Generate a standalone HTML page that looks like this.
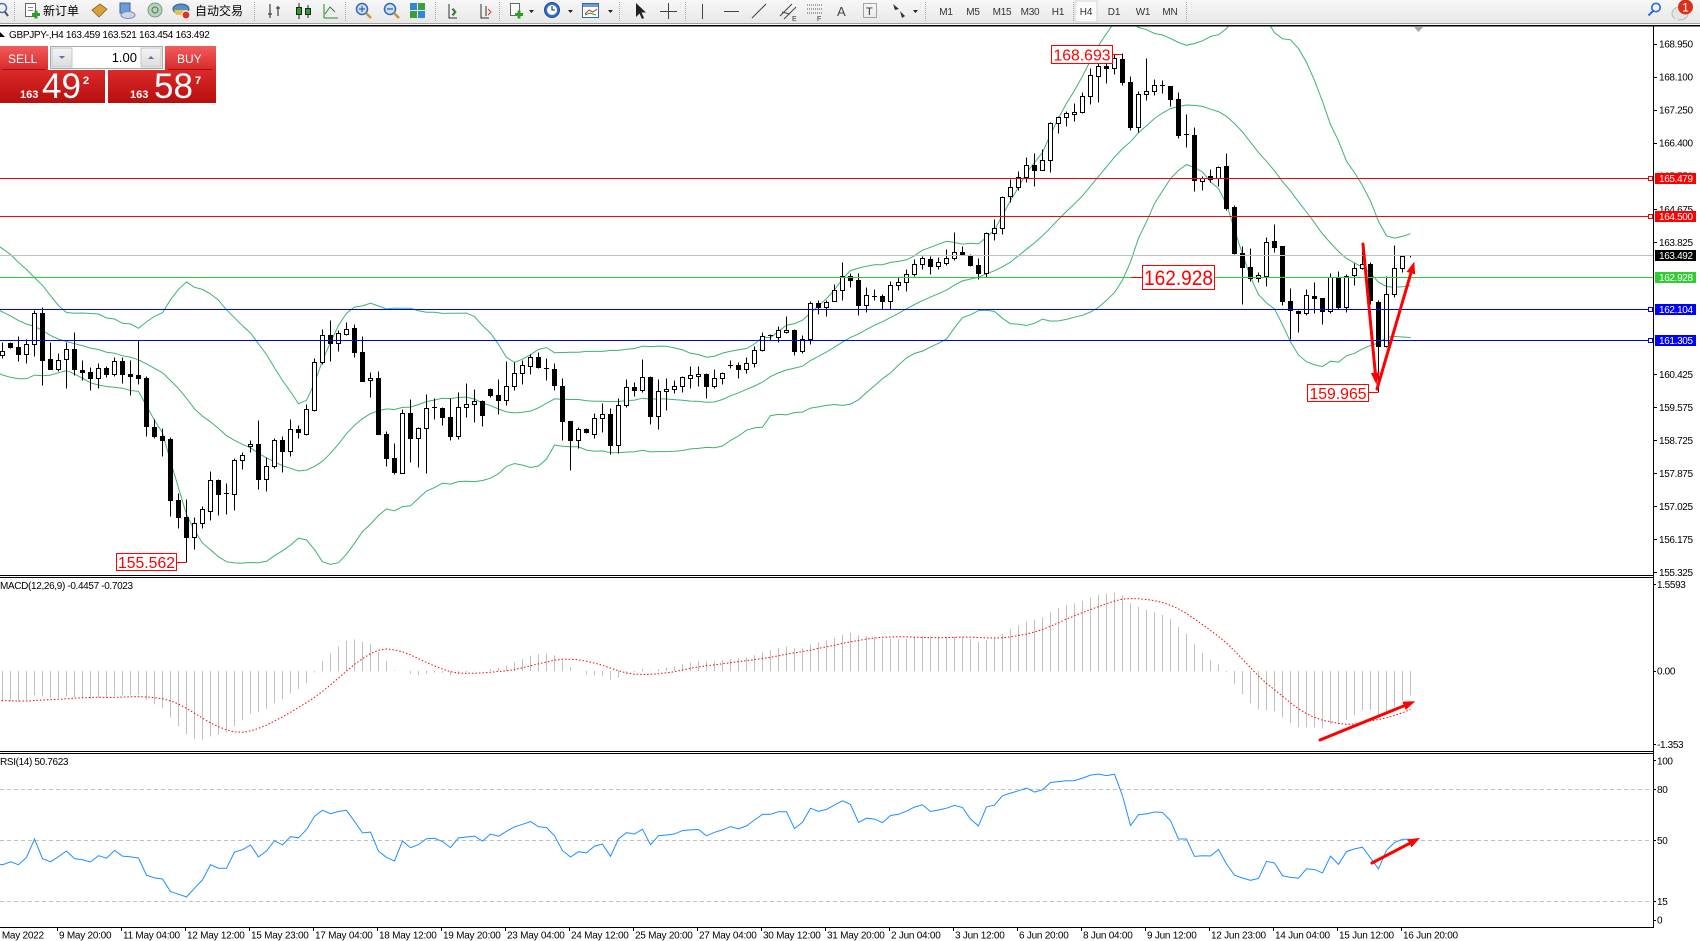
<!DOCTYPE html>
<html><head><meta charset="utf-8">
<style>
html,body{margin:0;padding:0;background:#fff;}
body{width:1700px;height:941px;overflow:hidden;position:relative;}
svg{position:absolute;left:0;top:0;}
text{font-family:"Liberation Sans","Noto Sans CJK SC",sans-serif;}
.t{font-size:10px;letter-spacing:-0.35px;fill:#000;}
.tb{font-size:10px;fill:#333;letter-spacing:-0.2px;}
.cj{font-size:12px;fill:#000;font-family:"Liberation Sans","Noto Sans CJK SC",sans-serif;}
.lw{font-size:10px;fill:#fff;letter-spacing:-0.35px;}
.an{font-size:16px;fill:#ff0000;}
</style></head><body>
<svg id="s" width="1700" height="941" viewBox="0 0 1700 941" xmlns="http://www.w3.org/2000/svg">
<defs>
 <clipPath id="cm"><rect x="0" y="26.5" width="1653" height="548.5"/></clipPath>
 <clipPath id="cd"><rect x="0" y="578" width="1653" height="173"/></clipPath>
 <clipPath id="cr"><rect x="0" y="754" width="1653" height="173"/></clipPath>
 <marker id="ah" markerWidth="4" markerHeight="3" refX="2.5" refY="1.5" orient="auto" markerUnits="strokeWidth"><path d="M0,0 L4,1.5 L0,3 z" fill="#ff0000"/></marker>
 <linearGradient id="gtb" x1="0" y1="0" x2="0" y2="1"><stop offset="0" stop-color="#f7f7f7"/><stop offset="1" stop-color="#e8e8e8"/></linearGradient>
 <linearGradient id="gbtn" x1="0" y1="0" x2="0" y2="1"><stop offset="0" stop-color="#f25c5c"/><stop offset="1" stop-color="#d82a2a"/></linearGradient>
 <linearGradient id="gpx" x1="0" y1="0" x2="0" y2="1"><stop offset="0" stop-color="#dc2a2a"/><stop offset="1" stop-color="#b80e0e"/></linearGradient>
 <linearGradient id="gsp" x1="0" y1="0" x2="0" y2="1"><stop offset="0" stop-color="#f4f4f4"/><stop offset="1" stop-color="#dcdcdc"/></linearGradient>
</defs>

<!-- toolbar -->
<rect x="0" y="0" width="1700" height="23" fill="url(#gtb)"/>
<rect x="0" y="23" width="1700" height="1" fill="#a0a0a0"/>
<rect x="0" y="25" width="1700" height="1.5" fill="#000"/>
<g stroke="#a8a8a8" stroke-width="1" stroke-dasharray="1 1">
 <line x1="14.5" y1="2" x2="14.5" y2="21"/><line x1="254.5" y1="2" x2="254.5" y2="21"/><line x1="345.5" y1="2" x2="345.5" y2="21"/>
 <line x1="435.5" y1="2" x2="435.5" y2="21"/><line x1="499.5" y1="2" x2="499.5" y2="21"/><line x1="619.5" y1="2" x2="619.5" y2="21"/>
 <line x1="685.5" y1="2" x2="685.5" y2="21"/><line x1="925.5" y1="2" x2="925.5" y2="21"/><line x1="1073.5" y1="2" x2="1073.5" y2="21"/>
 <line x1="1186.5" y1="2" x2="1186.5" y2="21"/>
</g>
<!-- icons -->
<circle cx="2" cy="8" r="4.5" fill="none" stroke="#3f6fc0" stroke-width="1.5"/><line x1="5" y1="12" x2="8" y2="16" stroke="#555" stroke-width="2"/>
<rect x="25.5" y="3.5" width="10" height="13" fill="#fff" stroke="#666"/><line x1="28" y1="7.5" x2="33" y2="7.5" stroke="#888"/><line x1="28" y1="10.5" x2="33" y2="10.5" stroke="#888"/>
<rect x="32" y="13" width="8" height="3" fill="#2aa02a"/><rect x="34.5" y="10.5" width="3" height="8" fill="#2aa02a"/>
<text x="43" y="15" class="cj">新订单</text>
<path d="M92,10 L100,4 L107,9 L99,17 z" fill="#d9a13b" stroke="#8a6320" stroke-width="0.8"/>
<rect x="120" y="3" width="10" height="10" fill="#6d9ad8" stroke="#3a64a8"/><ellipse cx="128" cy="15" rx="7" ry="3.5" fill="#c9d6e8" stroke="#7a8aa8"/>
<circle cx="155" cy="10" r="7" fill="#b7d2bd" stroke="#6f9f7f"/><circle cx="155" cy="10" r="3" fill="none" stroke="#4a7a5a"/>
<ellipse cx="181" cy="9" rx="8" ry="5" fill="#5a8fc6" stroke="#2e5c94"/><path d="M174,10 L188,10 L186,15 L176,15 z" fill="#e8c34a"/><circle cx="186" cy="15" r="4" fill="#e03030" stroke="#fff"/>
<text x="195" y="15" class="cj">自动交易</text>
<g stroke="#222" stroke-width="1" fill="none">
 <path d="M270,4 V18 M268,14 H272 M278,6 V16 M276,8 H280"/>
 <path d="M299,3 V19 M308,5 V18"/><rect x="296.5" y="7.5" width="5" height="7" fill="#2aa02a"/><rect x="305.5" y="8.5" width="5" height="6" fill="#2aa02a"/>
 <path d="M324,18 V4 M324,18 H338 M325,14 L330,7 L335,12" stroke="#2a8a2a"/>
 <path d="M449,4 V18 H457 M452,9 L455,12 L452,15" stroke="#333"/><path d="M453,8 L456,12 L453,16" stroke="#2aa02a"/>
 <path d="M481,4 V18 H489 M486,6 V16" stroke="#333"/><path d="M488,9 L491,12 L488,15" stroke="#d03030"/>
</g>
<circle cx="362" cy="9" r="5.5" fill="#cfe0f7" stroke="#2f65c0" stroke-width="1.5"/><path d="M359,9 H365 M362,6 V12" stroke="#2f65c0" stroke-width="1.3"/><line x1="366" y1="13" x2="371" y2="18" stroke="#c49a30" stroke-width="2.5"/>
<circle cx="390" cy="9" r="5.5" fill="#cfe0f7" stroke="#2f65c0" stroke-width="1.5"/><path d="M387,9 H393" stroke="#2f65c0" stroke-width="1.3"/><line x1="394" y1="13" x2="399" y2="18" stroke="#c49a30" stroke-width="2.5"/>
<rect x="410" y="3" width="7" height="7" fill="#2c8ad0"/><rect x="418" y="3" width="7" height="7" fill="#3aa03a"/><rect x="410" y="11" width="7" height="7" fill="#3aa03a"/><rect x="418" y="11" width="7" height="7" fill="#2c8ad0"/>
<rect x="510.5" y="3.5" width="9" height="12" fill="#fff" stroke="#666"/><rect x="515" y="13" width="8" height="3" fill="#2aa02a"/><rect x="517.5" y="10.5" width="3" height="8" fill="#2aa02a"/>
<path d="M529,10 L534,10 L531.5,13 z" fill="#222"/>
<circle cx="552" cy="10" r="7.5" fill="#2f6fd0" stroke="#1d4a98"/><circle cx="552" cy="10" r="5" fill="#fff"/><path d="M552,6 V10 H555" stroke="#222" fill="none"/>
<path d="M568,10 L573,10 L570.5,13 z" fill="#222"/>
<rect x="582.5" y="3.5" width="16" height="14" fill="#fff" stroke="#3a64a8"/><rect x="583" y="4" width="15" height="3" fill="#6d9ad8"/><path d="M585,14 L589,10 L593,12 L597,9" stroke="#d03030" fill="none"/><path d="M585,15 L590,13 L596,15" stroke="#2aa02a" fill="none"/>
<path d="M608,10 L613,10 L610.5,13 z" fill="#222"/>
<path d="M636,3 L636,17 L639.5,13.5 L642,19 L644,18 L641.5,12.5 L646,12.5 z" fill="#222"/>
<path d="M668.5,3 V19 M660,11.5 H677" stroke="#444" stroke-width="1"/>
<line x1="702.5" y1="4" x2="702.5" y2="19" stroke="#444"/>
<line x1="724" y1="11.5" x2="739" y2="11.5" stroke="#444"/>
<line x1="752" y1="18" x2="766" y2="4" stroke="#444"/>
<path d="M780,16 L792,4 M784,19 L796,7 M782,12 L790,14" stroke="#444" fill="none"/><text x="792" y="21" style="font-size:7px;fill:#333">E</text>
<path d="M807,5 H823 M807,9 H823 M807,13 H823" stroke="#555" stroke-dasharray="1 1"/><text x="817" y="21" style="font-size:7px;fill:#333">F</text>
<text x="837" y="16" style="font-size:13px;fill:#444">A</text>
<rect x="863.5" y="3.5" width="13" height="14" fill="none" stroke="#555" stroke-dasharray="1 1"/><text x="866" y="15" style="font-size:11px;fill:#333">T</text>
<path d="M893,4 L899,9 L895,10 z M900,11 L905,16 L902,18 z" fill="#333"/>
<path d="M913,10 L918,10 L915.5,13 z" fill="#222"/>
<rect x="1075" y="1" width="22" height="21" fill="#fbfbfb" stroke="#d4d4d4"/>
<g class="tb" text-anchor="middle">
 <text x="946" y="15">M1</text><text x="973" y="15">M5</text><text x="1002" y="15">M15</text><text x="1030" y="15">M30</text><text x="1058" y="15">H1</text>
 <text x="1086" y="15">H4</text><text x="1114" y="15">D1</text><text x="1143" y="15">W1</text><text x="1170" y="15">MN</text>
</g>
<circle cx="1656" cy="7.5" r="4.2" fill="none" stroke="#2a6ad0" stroke-width="1.6"/><line x1="1653" y1="11" x2="1648.5" y2="15.5" stroke="#2a6ad0" stroke-width="2"/>
<ellipse cx="1680" cy="13.5" rx="8" ry="6.5" fill="#e4e4e4" stroke="#b8b8b8"/><path d="M1675,18 L1673,22 L1679,19 z" fill="#e4e4e4"/>
<circle cx="1685.5" cy="7" r="7.5" fill="#d9301c"/><text x="1685.5" y="11.5" text-anchor="middle" style="font-size:12px;fill:#fff">1</text>

<!-- chart frame -->
<line x1="1653.5" y1="26" x2="1653.5" y2="928" stroke="#000" stroke-width="1"/>
<line x1="0" y1="575.5" x2="1653" y2="575.5" stroke="#000"/><line x1="0" y1="577.5" x2="1653" y2="577.5" stroke="#000"/>
<line x1="0" y1="751.5" x2="1653" y2="751.5" stroke="#000"/><line x1="0" y1="753.5" x2="1653" y2="753.5" stroke="#000"/>
<line x1="0" y1="927.5" x2="1653" y2="927.5" stroke="#000"/>

<!-- RSI levels -->
<g stroke="#c0c0c0" stroke-width="1" stroke-dasharray="4 3">
 <line x1="0" y1="789.5" x2="1650" y2="789.5"/><line x1="0" y1="840.5" x2="1650" y2="840.5"/><line x1="0" y1="901.5" x2="1650" y2="901.5"/>
</g>

<g id="gInd" clip-path="url(#cm)"></g>
<g id="gCan" clip-path="url(#cm)"></g>
<g id="gMacd" clip-path="url(#cd)"></g>
<g id="gRsi" clip-path="url(#cr)"></g>

<!-- horizontal lines -->
<g stroke-width="1">
 <line x1="0" y1="178.5" x2="1648" y2="178.5" stroke="#ff0000"/>
 <line x1="0" y1="216.5" x2="1648" y2="216.5" stroke="#ff0000"/>
 <line x1="0" y1="255.5" x2="1653" y2="255.5" stroke="#c0c0c0"/>
 <line x1="0" y1="277.5" x2="1653" y2="277.5" stroke="#32cd32"/>
 <line x1="0" y1="309.5" x2="1648" y2="309.5" stroke="#0000ff"/>
 <line x1="0" y1="340.5" x2="1648" y2="340.5" stroke="#0000ff"/>
 <rect x="1648.5" y="176.5" width="4" height="4" fill="#fff" stroke="#ff0000"/>
 <rect x="1648.5" y="214.5" width="4" height="4" fill="#fff" stroke="#ff0000"/>
 <rect x="1648.5" y="307.5" width="4" height="4" fill="#fff" stroke="#0000ff"/>
 <rect x="1648.5" y="338.5" width="4" height="4" fill="#fff" stroke="#0000ff"/>
</g>

<!-- header -->
<path d="M0,37 L5,37 L0,32 z" fill="#000"/>
<text x="9" y="38" class="t" style="letter-spacing:-0.3px">GBPJPY-,H4  163.459 163.521 163.454 163.492</text>
<path d="M1414,27 L1423,27 L1418.5,32 z" fill="#a8a8a8"/>

<!-- one click panel -->
<rect x="0" y="46" width="48" height="24" fill="url(#gbtn)"/>
<line x1="2" y1="69.5" x2="45" y2="69.5" stroke="#a01010"/>
<text x="8" y="63" style="font-size:12px;fill:#fff">SELL</text>
<rect x="50.5" y="46.5" width="112" height="22" fill="#fff" stroke="#a9a9a9"/>
<rect x="52" y="48" width="20" height="19" fill="url(#gsp)" stroke="#c4c4c4"/>
<path d="M59,56 L65,56 L62,59 z" fill="#6070a0"/>
<rect x="141" y="48" width="20" height="19" fill="url(#gsp)" stroke="#c4c4c4"/>
<path d="M148,59 L154,59 L151,56 z" fill="#6070a0"/>
<text x="137" y="62" text-anchor="end" style="font-size:13px;fill:#000">1.00</text>
<rect x="165" y="46" width="51" height="24" fill="url(#gbtn)"/>
<line x1="168" y1="69.5" x2="212" y2="69.5" stroke="#a01010"/>
<text x="177" y="63" style="font-size:12px;fill:#fff">BUY</text>
<rect x="0" y="70" width="105" height="33" fill="url(#gpx)"/>
<rect x="108" y="70" width="108" height="33" fill="url(#gpx)"/>
<text x="20" y="98" style="font-size:11px;font-weight:bold;fill:#fff">163</text>
<text x="42" y="98" style="font-size:35px;fill:#fff">49</text>
<text x="83" y="84" style="font-size:11px;font-weight:bold;fill:#fff">2</text>
<text x="130" y="98" style="font-size:11px;font-weight:bold;fill:#fff">163</text>
<text x="154" y="98" style="font-size:35px;fill:#fff">58</text>
<text x="195" y="84" style="font-size:11px;font-weight:bold;fill:#fff">7</text>

<!-- price axis -->
<g stroke="#000">
 <line x1="1653" y1="44.5" x2="1657" y2="44.5"/><line x1="1653" y1="77.5" x2="1657" y2="77.5"/><line x1="1653" y1="110.5" x2="1657" y2="110.5"/>
 <line x1="1653" y1="143.5" x2="1657" y2="143.5"/><line x1="1653" y1="209.5" x2="1657" y2="209.5"/><line x1="1653" y1="242.5" x2="1657" y2="242.5"/>
 <line x1="1653" y1="374.5" x2="1657" y2="374.5"/><line x1="1653" y1="407.5" x2="1657" y2="407.5"/><line x1="1653" y1="440.5" x2="1657" y2="440.5"/>
 <line x1="1653" y1="473.5" x2="1657" y2="473.5"/><line x1="1653" y1="506.5" x2="1657" y2="506.5"/><line x1="1653" y1="539.5" x2="1657" y2="539.5"/>
 <line x1="1653" y1="572.5" x2="1657" y2="572.5"/>
 <line x1="1653" y1="584.5" x2="1656" y2="584.5"/><line x1="1653" y1="671.5" x2="1656" y2="671.5"/><line x1="1653" y1="744.5" x2="1656" y2="744.5"/>
 <line x1="1653" y1="789.5" x2="1656" y2="789.5"/><line x1="1653" y1="840.5" x2="1656" y2="840.5"/><line x1="1653" y1="901.5" x2="1656" y2="901.5"/>
 <line x1="1653" y1="760.5" x2="1656" y2="760.5"/><line x1="1653" y1="920.5" x2="1656" y2="920.5"/>
</g>
<g class="t">
 <text x="1659" y="47.5">168.950</text><text x="1659" y="80.5">168.100</text><text x="1659" y="113.5">167.250</text>
 <text x="1659" y="146.5">166.400</text><text x="1659" y="179.5">165.550</text><text x="1659" y="213">164.675</text>
 <text x="1659" y="246">163.825</text><text x="1659" y="279">162.975</text><text x="1659" y="312">162.125</text>
 <text x="1659" y="345">161.275</text><text x="1659" y="378">160.425</text><text x="1659" y="411">159.575</text>
 <text x="1659" y="444">158.725</text><text x="1659" y="477">157.875</text><text x="1659" y="510">157.025</text>
 <text x="1659" y="543">156.175</text><text x="1659" y="576">155.325</text>
 <text x="1657" y="588">1.5593</text><text x="1657" y="674.5">0.00</text><text x="1657" y="748">-1.353</text>
 <text x="1657" y="764.5">100</text><text x="1657" y="793">80</text><text x="1657" y="844">50</text><text x="1657" y="905">15</text><text x="1657" y="923.5">0</text>
</g>
<rect x="1655" y="173" width="41" height="11" fill="#ff0000"/><text x="1659" y="182" class="lw">165.479</text>
<rect x="1655" y="211" width="41" height="11" fill="#ff0000"/><text x="1659" y="220" class="lw">164.500</text>
<rect x="1655" y="250" width="41" height="11" fill="#000"/><text x="1659" y="259" class="lw">163.492</text>
<rect x="1655" y="272" width="41" height="11" fill="#32cd32"/><text x="1659" y="281" class="lw">162.928</text>
<rect x="1655" y="304" width="41" height="11" fill="#0000ff"/><text x="1659" y="313" class="lw">162.104</text>
<rect x="1655" y="335" width="41" height="11" fill="#0000ff"/><text x="1659" y="344" class="lw">161.305</text>

<!-- indicator labels -->
<text x="0" y="589" class="t">MACD(12,26,9) -0.4457 -0.7023</text>
<text x="0" y="765" class="t">RSI(14) 50.7623</text>

<!-- time axis -->
<g stroke="#000">
 <line x1="57.5" y1="927" x2="57.5" y2="931"/><line x1="121.5" y1="927" x2="121.5" y2="931"/><line x1="185.5" y1="927" x2="185.5" y2="931"/>
 <line x1="249.5" y1="927" x2="249.5" y2="931"/><line x1="313.5" y1="927" x2="313.5" y2="931"/><line x1="377.5" y1="927" x2="377.5" y2="931"/>
 <line x1="441.5" y1="927" x2="441.5" y2="931"/><line x1="505.5" y1="927" x2="505.5" y2="931"/><line x1="569.5" y1="927" x2="569.5" y2="931"/>
 <line x1="633.5" y1="927" x2="633.5" y2="931"/><line x1="697.5" y1="927" x2="697.5" y2="931"/><line x1="761.5" y1="927" x2="761.5" y2="931"/>
 <line x1="825.5" y1="927" x2="825.5" y2="931"/><line x1="889.5" y1="927" x2="889.5" y2="931"/><line x1="953.5" y1="927" x2="953.5" y2="931"/>
 <line x1="1017.5" y1="927" x2="1017.5" y2="931"/><line x1="1081.5" y1="927" x2="1081.5" y2="931"/><line x1="1145.5" y1="927" x2="1145.5" y2="931"/>
 <line x1="1209.5" y1="927" x2="1209.5" y2="931"/><line x1="1273.5" y1="927" x2="1273.5" y2="931"/><line x1="1337.5" y1="927" x2="1337.5" y2="931"/>
 <line x1="1401.5" y1="927" x2="1401.5" y2="931"/>
</g>
<g class="t" style="letter-spacing:-0.25px">
 <text x="-6" y="938.5">6 May 2022</text>
 <text x="59" y="938.5">9 May 20:00</text><text x="123" y="938.5">11 May 04:00</text><text x="187" y="938.5">12 May 12:00</text>
 <text x="251" y="938.5">15 May 23:00</text><text x="315" y="938.5">17 May 04:00</text><text x="379" y="938.5">18 May 12:00</text>
 <text x="443" y="938.5">19 May 20:00</text><text x="507" y="938.5">23 May 04:00</text><text x="571" y="938.5">24 May 12:00</text>
 <text x="635" y="938.5">25 May 20:00</text><text x="699" y="938.5">27 May 04:00</text><text x="763" y="938.5">30 May 12:00</text>
 <text x="827" y="938.5">31 May 20:00</text><text x="891" y="938.5">2 Jun 04:00</text><text x="955" y="938.5">3 Jun 12:00</text>
 <text x="1019" y="938.5">6 Jun 20:00</text><text x="1083" y="938.5">8 Jun 04:00</text><text x="1147" y="938.5">9 Jun 12:00</text>
 <text x="1211" y="938.5">12 Jun 23:00</text><text x="1275" y="938.5">14 Jun 04:00</text><text x="1339" y="938.5">15 Jun 12:00</text>
 <text x="1403" y="938.5">16 Jun 20:00</text>
</g>

<!-- annotations -->
<line x1="1113" y1="54.5" x2="1122" y2="54.5" stroke="#ff0000"/>
<rect x="1051.5" y="45.5" width="61" height="18" fill="#fff" stroke="#ff0000"/>
<text x="1082" y="60.5" text-anchor="middle" class="an" textLength="57" lengthAdjust="spacingAndGlyphs">168.693</text>
<line x1="1131" y1="277.5" x2="1142" y2="277.5" stroke="#ff0000"/>
<rect x="1142.5" y="265.5" width="72" height="24" fill="#fff" stroke="#ff0000"/>
<text x="1178.5" y="285" text-anchor="middle" style="font-size:21px;fill:#ff0000" textLength="69" lengthAdjust="spacingAndGlyphs">162.928</text>
<line x1="1368" y1="392.5" x2="1378" y2="392.5" stroke="#ff0000"/>
<rect x="1307.5" y="384.5" width="61" height="17" fill="#fff" stroke="#ff0000"/>
<text x="1338" y="399" text-anchor="middle" class="an" textLength="57" lengthAdjust="spacingAndGlyphs">159.965</text>
<line x1="176" y1="562.5" x2="186" y2="562.5" stroke="#ff0000"/>
<rect x="116.5" y="553.5" width="60" height="17" fill="#fff" stroke="#ff0000"/>
<text x="146.5" y="568" text-anchor="middle" class="an" textLength="57" lengthAdjust="spacingAndGlyphs">155.562</text>

<!-- red arrows -->
<g stroke="#ff0000" stroke-width="3" fill="none" stroke-linecap="round">
 <line x1="1363" y1="244" x2="1376" y2="380" marker-end="url(#ah)"/>
 <line x1="1377" y1="389" x2="1413" y2="266" marker-end="url(#ah)"/>
 <line x1="1320" y1="740" x2="1411" y2="703" marker-end="url(#ah)"/>
 <line x1="1372" y1="863" x2="1416" y2="840" marker-end="url(#ah)"/>
</g>
</svg>
<script>
(function(){
var NS='http://www.w3.org/2000/svg';
function mk(tag,a,p){var e=document.createElementNS(NS,tag);for(var k in a)e.setAttribute(k,a[k]);p.appendChild(e);return e;}
var gInd=document.getElementById('gInd'),gCan=document.getElementById('gCan'),gMacd=document.getElementById('gMacd'),gRsi=document.getElementById('gRsi');
var A=[[515,525,488,535,1],[489,502,486,505,0],[502,523,468,545,0],[493,523,478,550,1],[400,493,390,530,1],[400,540,381,617,0],[538,568,486,568,0],[540,568,520,575,1],[508,538,488,625,1],[508,568,457,585,0],
[570,578,540,602,0],[577,596,563,632,0],[565,595,549,625,1],[565,583,560,592,0],[544,583,531,590,1],[544,583,531,610,0],[582,589,540,647,0],[586,596,481,614,0],[595,740,588,770,0],[742,770,718,775,0],
[768,782,745,828,0],[777,962,772,1010,0],[960,1012,940,1045,0],[1012,1072,958,1147,0],[1030,1072,1012,1108,1],[988,1030,980,1045,1],[902,995,873,1022,1],[902,942,897,1007,0],[940,943,910,1003,0],[842,943,835,992,1],
[826,841,816,868,1],[794,800,780,818,1],[794,898,722,928,0],[858,898,833,935,1],[780,860,776,866,1],[780,815,770,878,0],[748,815,717,828,1],[748,757,735,775,0],[688,764,672,767,1],[547,690,535,693,1],
[466,548,448,553,1],[466,490,420,543,0],[460,490,450,515,1],[448,462,427,467,1],[445,518,432,533,0],[517,603,468,605,0],[595,601,578,653,1],[595,764,573,764,0],[762,835,753,858,0],[835,878,790,882,0],
[700,880,687,880,1],[700,775,657,848,0],[745,775,741,862,1],[685,745,643,880,1],[681,684,655,718,1],[685,712,683,737,0],[712,770,655,782,0],[682,770,636,778,1],[673,682,610,713,1],[665,672,628,727,1],
[665,706,660,740,0],[628,645,625,652,0],[645,662,598,703,0]];
var B=[[620,662,543,675,1],[580,620,548,632,1],[556,580,540,614,1],[532,560,524,582,1],[532,563,516,566,0],[565,567,535,600,0],[568,617,550,630,0],
[618,725,595,782,0],[724,782,724,870,0],[748,782,743,806,1],[748,758,745,760,0],[715,763,700,776,1],[703,715,670,756,1],[703,797,685,823,0],[676,797,655,820,1],[622,676,598,683,1],[622,632,606,648,0],
[592,632,538,636,1],[592,710,588,732,0],[634,710,598,748,1],[628,634,596,692,1],[619,628,600,640,1],[592,619,589,636,1],[586,595,560,626,1],[583,589,558,618,1],[583,620,580,656,0],[596,620,568,626,1],
[580,596,578,612,1],[556,558,541,566,0],[556,569,548,596,0],[550,569,533,580,1],[511,550,500,563,1],[470,512,458,515,1],[467,469,462,480,0],[451,472,438,487,1],[451,457,408,460,1],[451,515,448,527,0],
[478,515,466,520,1],[370,478,363,493,1],[370,383,360,404,0],[367,383,360,410,1],[330,365,312,365,1],[289,331,248,360,1],[289,302,279,323,0],[300,377,279,407,0],[346,377,321,398,1],[350,352,327,360,1],
[349,365,342,387,0],[316,365,305,387,1],[307,316,293,330,1],[284,307,268,335,1],[253,284,238,290,1],[235,253,230,268,1],[238,258,230,282,0],[247,258,232,268,1],[235,250,208,255,1],[216,235,157,240,1],
[216,222,198,226,0],[226,257,222,258,0],[256,280,235,298,0],[160,280,156,292,1],[145,160,118,181,1]];
var C=[[515,607,512,625,1],[484,512,460,528,1],[455,484,437,493,1],[418,455,393,470,1],[418,432,383,482,0],[403,433,370,433,1],[292,403,290,440,1],[275,292,270,322,1],[262,273,255,300,1],[258,265,232,287,1],
[212,260,198,263,1],[148,212,128,235,1],[122,150,105,230,1],[120,127,100,172,0],[97,127,85,145,1],[100,168,83,178,0],[168,305,150,312,0],[205,305,195,318,1],[197,205,97,222,1],[178,196,160,208,1],
[177,180,162,202,0],[180,220,180,240,0],[220,328,200,338,0],[326,328,265,365,0],[327,462,303,497,0],[458,465,450,492,1],[450,460,430,470,0],[423,457,420,482,1],[420,548,383,553,0],[545,683,537,685,0],
[682,723,662,835,0],[723,758,668,765,0],[748,757,740,768,1],[648,752,635,782,1],[645,665,595,678,0],[662,827,660,837,0],[825,853,787,940,0],[855,863,852,920,0],[808,862,790,868,1],[810,818,768,862,0],
[818,857,818,895,0],[753,857,742,862,1],[753,845,735,850,0],[750,845,745,860,1],[728,748,712,778,1],[715,728,655,730,1],[715,822,710,835,0],[828,962,822,1099,0],[805,962,750,965,1],[727,805,657,815,1],
[690,727,688,738,1],[689,691,687,693,0]];
var bars=[];
function add(arr,off){arr.forEach(function(r){bars.push({t:off+r[0]/3,b:off+r[1]/3,h:off+r[2]/3,l:off+r[3]/3,u:r[4]});});}
add(A,180);add(B,180);add(C,26);
function P(y){return 168.95-(y-44)/38.77;}
function Y(p){return 44+(168.95-p)*38.77;}
var W=[];for(var k=0;k<40;k++)W.push(164.3-k*0.03+0.25*Math.sin(k*1.3));
W.push(163.3,163.2,163.35,163.05,163.15,162.95,163.05,162.75,162.3,161.7,161.45,161.6,161.3,161.85,161.25,161.75,161.15,161.65,161.2,161.1);
var cl=W.concat(bars.map(function(b){return P(b.u?b.t:b.b);}));
var N0=W.length,n=cl.length;
function X(i){return 2.5+8*(i-N0);}
// Bollinger
var up=[],md=[],lo=[];
for(var i=N0-1;i<n;i++){var s=0,j;for(j=i-19;j<=i;j++)s+=cl[j];var m=s/20,v=0;for(j=i-19;j<=i;j++)v+=(cl[j]-m)*(cl[j]-m);var sd=Math.sqrt(v/20);var x=X(i).toFixed(1);
 up.push(x+','+Y(m+2*sd).toFixed(1));md.push(x+','+Y(m).toFixed(1));lo.push(x+','+Y(m-2*sd).toFixed(1));}
[up,md,lo].forEach(function(a){mk('polyline',{points:a.join(' '),fill:'none',stroke:'#3cb371','stroke-width':1},gInd);});
// candles
function r5(v){return Math.round(v-0.5)+0.5;}
bars.forEach(function(b,i){var cx=2.5+8*i;
 mk('line',{x1:cx,x2:cx,y1:r5(b.h),y2:r5(b.l),stroke:'#000','stroke-width':1},gCan);
 var t=r5(b.t),bb=r5(b.b);
 if(bb-t<1.5)mk('line',{x1:cx-2.5,x2:cx+2.5,y1:t,y2:t,stroke:'#000','stroke-width':1},gCan);
 else mk('rect',{x:cx-2,y:t,width:4,height:bb-t,fill:b.u?'#fff':'#000',stroke:'#000','stroke-width':1},gCan);
});
// MACD
var e12=cl[0],e26=cl[0],mn=[],sg=[];
for(i=0;i<n;i++){e12+=(cl[i]-e12)*2/13;e26+=(cl[i]-e26)*2/27;mn.push(e12-e26);
 if(i>=8){var ss=0;for(j=i-8;j<=i;j++)ss+=mn[j];sg.push(ss/9);}else sg.push(mn[i]);}
function YM(v){return 671-v*55;}
var sp=[];
for(i=N0-1;i<n;i++){var xx=X(i);if(i>=N0)mk('line',{x1:xx,x2:xx,y1:671,y2:YM(mn[i]).toFixed(1),stroke:'#c0c0c0','stroke-width':1},gMacd);sp.push(xx.toFixed(1)+','+YM(sg[i]).toFixed(1));}
mk('polyline',{points:sp.join(' '),fill:'none',stroke:'#ff0000','stroke-width':1,'stroke-dasharray':'1.5 2'},gMacd);
// RSI
var ag=0,al=0,rs=[];
for(i=1;i<n;i++){var d=cl[i]-cl[i-1],g=d>0?d:0,l=d<0?-d:0;
 if(i<=14){ag+=g/14;al+=l/14;}else{ag=(ag*13+g)/14;al=(al*13+l)/14;}
 rs[i]=al===0?100:100-100/(1+ag/al);}
function YR(v){return 840.3-1.72*(v-50);}
var rp=[];for(i=N0-1;i<n;i++)rp.push(X(i).toFixed(1)+','+YR(rs[i]).toFixed(1));
mk('polyline',{points:rp.join(' '),fill:'none',stroke:'#1e90ff','stroke-width':1},gRsi);
})();
</script>
</body></html>
